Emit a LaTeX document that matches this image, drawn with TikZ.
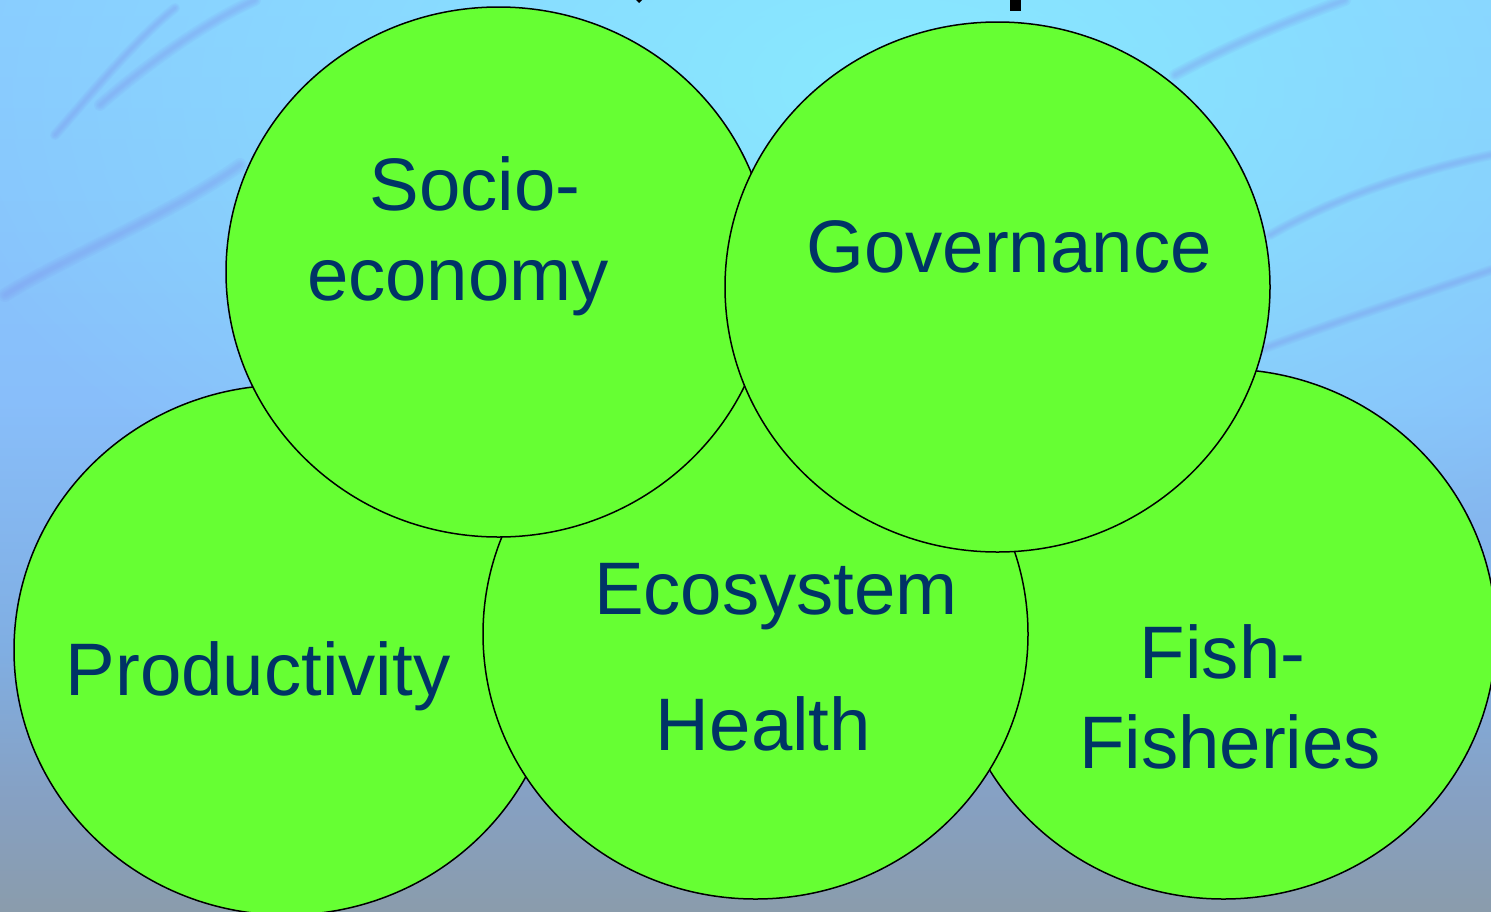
\documentclass[tikz,border=0pt]{standalone}
\usepackage{fontspec}
\setmainfont{Liberation Sans}
\usetikzlibrary{shapes.geometric,fadings}
\definecolor{discgreen}{HTML}{66FF33}
\definecolor{ink}{HTML}{003366}
\definecolor{bgA}{HTML}{8ACBFF}
\definecolor{bgB}{HTML}{88BEFA}
\definecolor{bgC}{HTML}{80AEE2}
\definecolor{bgD}{HTML}{86A0C2}
\definecolor{bgE}{HTML}{8A9CAC}
\definecolor{glowc}{HTML}{88EAFF}
\definecolor{streakc}{HTML}{7E90EE}
\pgfdeclareverticalshading{seabg}{100bp}{
  color(0bp)=(bgE); color(25bp)=(bgE); color(31bp)=(bgD); color(39.3bp)=(bgC); color(53bp)=(bgB); color(75bp)=(bgA); color(100bp)=(bgA)}
\tikzset{
  disc/.style={ellipse,draw=black,line width=1.5pt,fill=discgreen,minimum width=545pt,minimum height=530pt,inner sep=0pt,outer sep=0pt},
  lbl/.style={text=ink,anchor=base,inner sep=0pt,font=\fontsize{74.4}{74.4}\selectfont},
  streak/.style={streakc,line cap=round,opacity=0.10,line width=#1,
    postaction={draw,streakc,opacity=0.10,line width=0.75*#1},
    postaction={draw,streakc,opacity=0.10,line width=0.5*#1},
    postaction={draw,streakc,opacity=0.10,line width=0.25*#1}}
}
\tikzfading[name=glow,inner color=transparent!0,middle color=transparent!25,outer color=transparent!100]
\begin{document}
\begin{tikzpicture}[x=1pt,y=-1pt]
\useasboundingbox (0,0) rectangle (1491,911);
\shade[shading=seabg] (0,0) rectangle (1491,911);
\fill[glowc,path fading=glow,fit fading=true] (-100,-450) rectangle (1900,620);
\draw[streak=14pt] (5,295) .. controls (60,260) and (170,215) .. (240,165);
\draw[streak=12pt] (100,105) .. controls (140,70) and (200,25) .. (255,0);
\draw[streak=10pt] (55,135) .. controls (90,95) and (135,40) .. (175,8);
\draw[streak=10pt] (1270,235) .. controls (1340,195) and (1420,170) .. (1491,155);
\draw[streak=12pt] (1175,75) .. controls (1230,45) and (1290,20) .. (1345,0);
\draw[streak=10pt] (1260,350) .. controls (1340,320) and (1420,295) .. (1491,270);
\fill[black] (1010,0) rectangle (1021,11);
\fill[black] (636,0) -- (642,0) -- (639,3) -- cycle;
\node[disc] (prod) at (286.5,650) {};
\node[disc] (fish) at (1223.5,634) {};
\node[disc] (eco) at (755.5,634) {};
\node[disc] (socio) at (498.5,272) {};
\node[disc] (gov) at (997.5,287) {};
\node[lbl] (t1) at (475,210) {Socio-};
\node[lbl] (t2) at (458,300) {economy};
\node[lbl] (t3) at (1009,272) {Governance};
\node[lbl] (t4) at (258,695) {Productivity};
\node[lbl] (t5) at (776,614) {Ecosystem};
\node[lbl] (t6) at (763.5,750) {Health};
\node[lbl] (t7) at (1222.5,678) {Fish-};
\node[lbl] (t8) at (1230,768) {Fisheries};
\end{tikzpicture}
\end{document}
